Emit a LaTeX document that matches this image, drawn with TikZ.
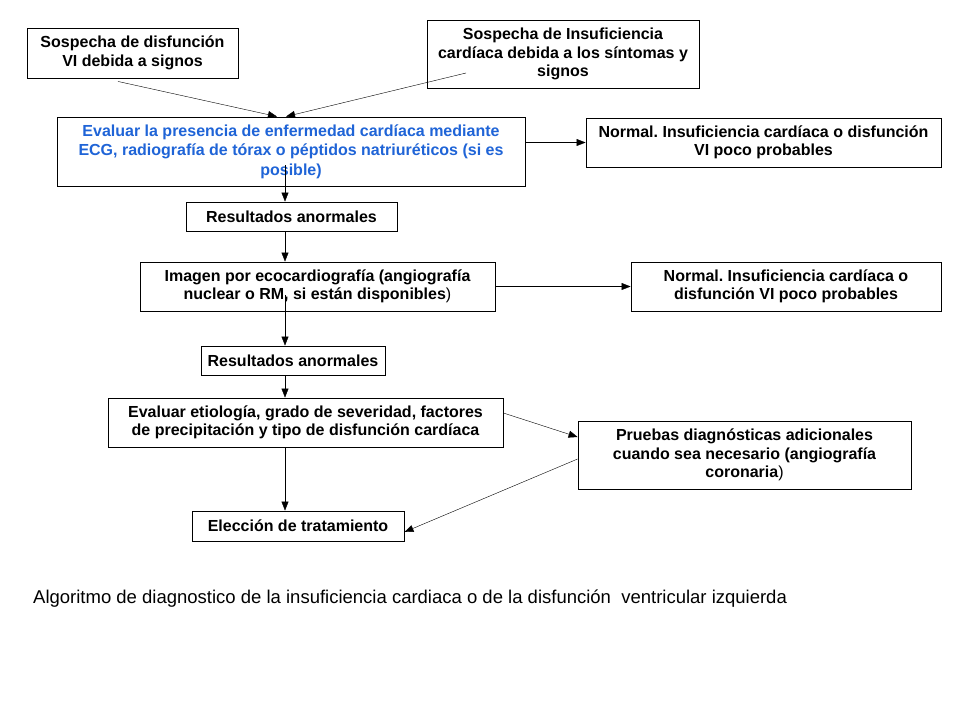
\documentclass[tikz,border=0pt]{standalone}
\usepackage{fontspec}
\setmainfont{Liberation Sans}
\usetikzlibrary{calc}
\usetikzlibrary{arrows.meta}
\definecolor{azulev}{RGB}{31,100,215}
\frenchspacing

\begin{document}
\begin{tikzpicture}[x=1pt,y=-1pt,>={Stealth[length=9pt,width=7pt,inset=0pt]},
    caja/.style={draw,line width=0.9pt,align=center,inner sep=0pt,
                 font=\fontsize{16}{18.5}\selectfont\bfseries}]
    \useasboundingbox[fill=white] (0,0) rectangle (960,720);
    \node[caja,minimum width=211pt,minimum height=50pt] (sospVI) at (132.5,53)
        {Sospecha de disfunción\\VI debida a signos};
    \node[caja,minimum width=272pt,minimum height=68pt] (sospIC) at (563,54)
        {Sospecha de Insuficiencia\\cardíaca debida a los síntomas y\\signos};
    \node[caja,text=azulev,minimum width=468pt,minimum height=69pt,
          font=\fontsize{16}{19.5}\selectfont\bfseries] (evalECG) at (291,151.5)
        {Evaluar la presencia de enfermedad cardíaca mediante\\ECG, radiografía de tórax o péptidos natriuréticos (si es\\posible)};
    \node[caja,minimum width=355pt,minimum height=49pt] (normalA) at (763.5,142.5)
        {Normal. Insuficiencia cardíaca o disfunción\\VI poco probables};
    \node[caja,minimum width=211pt,minimum height=29pt] (resA) at (291.5,216.5)
        {Resultados anormales};
    \node[caja,minimum width=355pt,minimum height=49pt] (imagen) at (317.5,286.5)
        {Imagen por ecocardiografía (angiografía\\nuclear o RM, si están disponibles{\mdseries)}};
    \node[caja,minimum width=310pt,minimum height=49pt] (normalB) at (786,286.5)
        {Normal. Insuficiencia cardíaca o\\disfunción VI poco probables};
    \node[caja,minimum width=184pt,minimum height=29pt] (resB) at (293,360.5)
        {Resultados anormales};
    \node[caja,minimum width=395pt,minimum height=49pt] (etiol) at (305.5,422.5)
        {Evaluar etiología, grado de severidad, factores\\de precipitación y tipo de disfunción cardíaca};
    \node[caja,minimum width=333pt,minimum height=68pt] (pruebas) at (744.5,455)
        {Pruebas diagnósticas adicionales\\cuando sea necesario (angiografía\\coronaria{\mdseries)}};
    \node[caja,minimum width=212pt,minimum height=30pt] (trat) at (298,526)
        {Elección de tratamiento};
    \node[anchor=base west,inner sep=0pt,font=\fontsize{18.5}{22}\selectfont] (pie) at (33,603)
        {Algoritmo de diagnostico de la insuficiencia cardiaca o de la disfunción\ \ ventricular izquierda};
    % eje vertical de las flechas
    \coordinate (eje) at (285,0);
    \draw[->] ([xshift=-14.5pt,yshift=-3pt]sospVI.south) -- ([xshift=-14pt]evalECG.north);
    \draw[->] ([xshift=-97pt,yshift=-19pt]sospIC.center) -- ([xshift=-5pt]evalECG.north);
    \draw[->] (evalECG.east |- normalA.west) -- (normalA.west);
    \draw[->] ($(eje |- evalECG.south)+(0,-21)$) -- (eje |- resA.north);
    \draw[->] (eje |- resA.south) -- (eje |- imagen.north);
    \draw[->] (imagen.east) -- (normalB.west);
    \draw[->] ($(eje |- imagen.south)+(0,-16)$) -- (eje |- resB.north);
    \draw[->] (eje |- resB.south) -- (eje |- etiol.north);
    \draw[->] ([yshift=9.5pt]etiol.east) -- ([yshift=18pt]pruebas.west);
    \draw[->] (eje |- etiol.south) -- (eje |- trat.north);
    \draw[->] ([yshift=-4pt]pruebas.west) -- ([yshift=-6pt]trat.east);
\end{tikzpicture}
\end{document}
